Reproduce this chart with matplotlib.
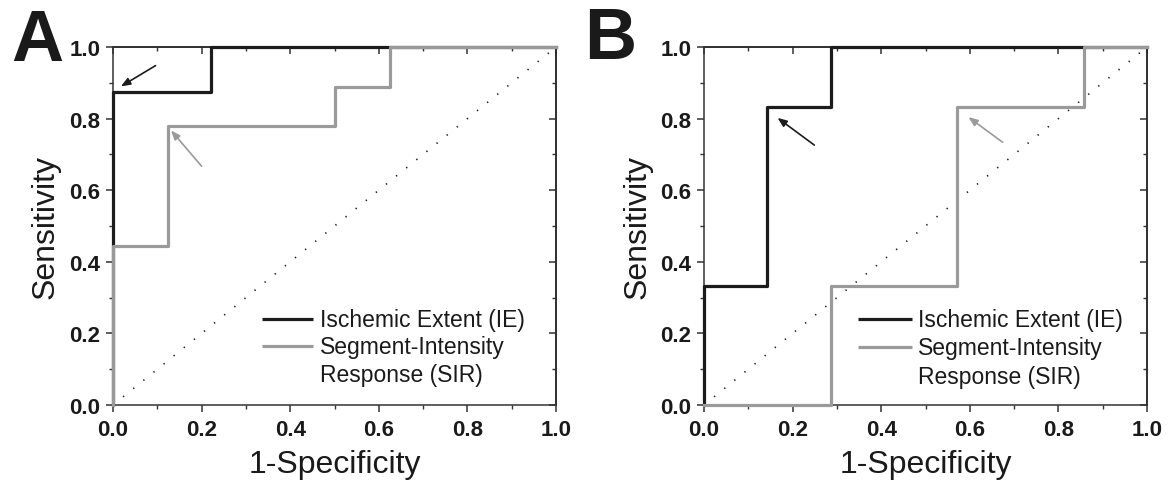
import matplotlib
matplotlib.use('Agg')
import matplotlib.pyplot as plt
from matplotlib.ticker import MultipleLocator

plt.rcParams['font.family'] = ['Liberation Sans', 'DejaVu Sans']

# panel A
a_ie_x = [0, 0, 0.222, 0.222, 1]
a_ie_y = [0, 0.875, 0.875, 1, 1]
a_sir_x = [0, 0, 0.125, 0.125, 0.5, 0.5, 0.625, 0.625, 1]
a_sir_y = [0, 0.444, 0.444, 0.778, 0.778, 0.889, 0.889, 1, 1]

# panel B
b_ie_x = [0, 0, 0.143, 0.143, 0.286, 0.286, 1]
b_ie_y = [0, 0.333, 0.333, 0.833, 0.833, 1, 1]
b_sir_x = [0, 0.286, 0.286, 0.571, 0.571, 0.857, 0.857, 1]
b_sir_y = [0, 0, 0.333, 0.333, 0.833, 0.833, 1, 1]

labels = ['Ischemic Extent (IE)', 'Segment-Intensity', 'Response (SIR)']
ticks = [0.0, 0.2, 0.4, 0.6, 0.8, 1.0]

BLACK = '#1c1c1c'
GRAY = '#9a9a9a'

fig = plt.figure(figsize=(11.76, 4.85), dpi=100)
axA = fig.add_axes([113 / 1176, 1 - 406 / 485, 443 / 1176, 358 / 485])
axB = fig.add_axes([704 / 1176, 1 - 406 / 485, 443 / 1176, 358 / 485])


def style_axes(ax, ylab_x):
    ax.set_xlim(0, 1)
    ax.set_ylim(0, 1)
    ax.plot([0, 1], [0, 1], color=BLACK, lw=1.2, linestyle=(0, (0.8, 7.0)), zorder=1)
    for s in ax.spines.values():
        s.set_linewidth(1.1)
        s.set_color('#333333')
    ax.set_xticks(ticks)
    ax.set_yticks(ticks)
    ax.xaxis.set_minor_locator(MultipleLocator(0.1))
    ax.yaxis.set_minor_locator(MultipleLocator(0.1))
    ax.tick_params(which='major', direction='out', length=5, width=1.1, color='#333333',
                   labelsize=16, pad=4)
    ax.tick_params(axis='x', which='major', pad=5)
    ax.tick_params(which='minor', direction='out', length=3, width=1.0, color='#333333')
    ax.set_xticklabels([f'{t:.1f}' for t in ticks], fontweight='bold', color='#1a1a1a')
    ax.set_yticklabels([f'{t:.1f}' for t in ticks], fontweight='bold', color='#1a1a1a')
    # mirrored ticks pointing inward
    top = ax.secondary_xaxis('top')
    top.set_xticks(ticks)
    top.xaxis.set_minor_locator(MultipleLocator(0.1))
    top.tick_params(which='major', direction='in', length=5, width=1.1, color='#333333',
                    labeltop=False)
    top.tick_params(which='minor', direction='in', length=3, width=1.0, color='#333333')
    top.spines['top'].set_linewidth(1.1)
    right = ax.secondary_yaxis('right')
    right.set_yticks(ticks)
    right.yaxis.set_minor_locator(MultipleLocator(0.1))
    right.tick_params(which='major', direction='in', length=5, width=1.1, color='#333333',
                      labelright=False)
    right.tick_params(which='minor', direction='in', length=3, width=1.0, color='#333333')
    right.spines['right'].set_linewidth(1.1)
    ax.set_xlabel('1-Specificity', fontsize=23, va='center', color='#1a1a1a')
    ax.set_ylabel('Sensitivity', fontsize=23, va='center', color='#1a1a1a')
    ax.xaxis.set_label_coords(0.5, -0.165)
    ax.yaxis.set_label_coords(ylab_x, 0.5)


def legend(ax, x0, x1, xt, rows):
    ax.plot([x0, x1], [rows[0], rows[0]], color=BLACK, lw=2.3, solid_capstyle='butt',
            transform=ax.transAxes, clip_on=False)
    ax.plot([x0, x1], [rows[1], rows[1]], color=GRAY, lw=2.3, solid_capstyle='butt',
            transform=ax.transAxes, clip_on=False)
    for lab, y in zip(labels, rows):
        ax.text(xt, y, lab, fontsize=16.5, va='center', ha='left', color='#1a1a1a',
                transform=ax.transAxes)


arrow = '-|>,head_length=0.55,head_width=0.22'

style_axes(axA, -0.153)
axA.plot(a_ie_x, a_ie_y, color=BLACK, lw=2.3, zorder=3, clip_on=False)
axA.plot(a_sir_x, a_sir_y, color=GRAY, lw=2.3, zorder=4, clip_on=False)
axA.annotate('', xy=(0.018, 0.890), xytext=(0.096, 0.948),
             arrowprops=dict(arrowstyle=arrow, color=BLACK, lw=1.2, shrinkA=0, shrinkB=0))
axA.annotate('', xy=(0.131, 0.767), xytext=(0.2, 0.667),
             arrowprops=dict(arrowstyle=arrow, color=GRAY, lw=1.2, shrinkA=0, shrinkB=0))
legend(axA, 0.336, 0.451, 0.467, [0.240, 0.164, 0.085])

style_axes(axB, -0.149)
axB.plot(b_ie_x, b_ie_y, color=BLACK, lw=2.3, zorder=3, clip_on=False)
axB.plot(b_sir_x, b_sir_y, color=GRAY, lw=2.3, zorder=4, clip_on=False)
axB.annotate('', xy=(0.166, 0.802), xytext=(0.249, 0.726),
             arrowprops=dict(arrowstyle=arrow, color=BLACK, lw=1.2, shrinkA=0, shrinkB=0))
axB.annotate('', xy=(0.597, 0.804), xytext=(0.674, 0.734),
             arrowprops=dict(arrowstyle=arrow, color=GRAY, lw=1.2, shrinkA=0, shrinkB=0))
legend(axB, 0.348, 0.470, 0.482, [0.240, 0.162, 0.080])

fig.text(11 / 1176, 1 - 61 / 485, 'A', fontsize=52, fontweight='bold', color='#1a1a1a',
         ha='left', va='baseline')
fig.text(584 / 1176, 1 - 59 / 485, 'B', fontsize=52, fontweight='bold', color='#1a1a1a',
         ha='left', va='baseline')

fig.savefig('out.png', dpi=100)
